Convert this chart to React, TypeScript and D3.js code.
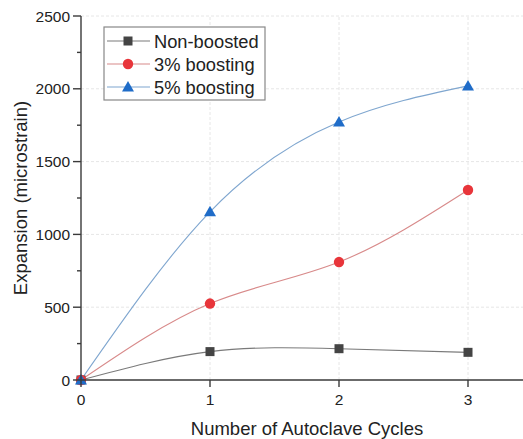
import React from 'react';
import * as d3 from 'd3';

const cycles = [0, 1, 2, 3];
const nonBoosted = [0, 195, 215, 190];
const boost3 = [0, 525, 810, 1305];
const boost5 = [0, 1155, 1772, 2020];
const yTicks = [0, 500, 1000, 1500, 2000, 2500];
const yMinor = [250, 750, 1250, 1750, 2250];
const xTicks = [0, 1, 2, 3];

const FONT = '"Liberation Sans", Arial, sans-serif';

const series = [
  { name: 'Non-boosted', values: nonBoosted, line: '#7a7a7a', fill: '#444444', shape: 'square' },
  { name: '3% boosting', values: boost3, line: '#d88a8a', fill: '#e8353a', shape: 'circle' },
  { name: '5% boosting', values: boost5, line: '#7fa6cf', fill: '#1f6cc8', shape: 'triangle' },
];

const Marker = ({ shape, x, y, fill }: { shape: string; x: number; y: number; fill: string }) => {
  if (shape === 'square') return <rect x={x - 4.5} y={y - 4.5} width={9} height={9} fill={fill} />;
  if (shape === 'circle') return <circle cx={x} cy={y} r={5.2} fill={fill} />;
  return <path d={`M${x},${y - 6} L${x + 6},${y + 4.5} L${x - 6},${y + 4.5} Z`} fill={fill} />;
};

const App = () => {
  const width = 523;
  const height = 439;
  const x = d3.scaleLinear().domain([0, 3]).range([81, 468]);
  const y = d3.scaleLinear().domain([0, 2500]).range([380, 16]);

  const line = d3
    .line<number>()
    .x((_, i) => x(cycles[i]))
    .y((d) => y(d))
    .curve(d3.curveNatural);

  return (
    <svg
      width={width}
      height={height}
      style={{ position: 'absolute', left: 0, top: 0, background: '#fff' }}
      fontFamily={FONT}
    >
      {/* grid */}
      {yTicks.slice(1).map((t) => (
        <line key={'gy' + t} x1={x(0)} x2={width} y1={y(t)} y2={y(t)} stroke="#e6e6e6" strokeWidth={1} strokeDasharray="3,2" />
      ))}
      {xTicks.slice(1).map((t) => (
        <line key={'gx' + t} x1={x(t)} x2={x(t)} y1={y(0)} y2={y(2500)} stroke="#e6e6e6" strokeWidth={1} strokeDasharray="3,2" />
      ))}

      {/* series lines */}
      {series.map((s) => (
        <path key={s.name} d={line(s.values) || ''} fill="none" stroke={s.line} strokeWidth={1.1} />
      ))}
      {series.map((s) =>
        s.values.map((v, i) => (
          <Marker key={s.name + i} shape={s.shape} x={x(cycles[i])} y={y(v)} fill={s.fill} />
        ))
      )}

      {/* axes */}
      <line x1={x(0)} x2={x(0)} y1={y(0)} y2={y(2500)} stroke="#3a3a3a" strokeWidth={1.4} />
      <line x1={x(0)} x2={width} y1={y(0)} y2={y(0)} stroke="#3a3a3a" strokeWidth={1.4} />
      {yTicks.map((t) => (
        <g key={'yt' + t}>
          <line x1={x(0) - 8} x2={x(0)} y1={y(t)} y2={y(t)} stroke="#3a3a3a" strokeWidth={1.4} />
          <text x={x(0) - 11} y={y(t)} dy="0.36em" textAnchor="end" fontSize={15.5} fill="#222">
            {t}
          </text>
        </g>
      ))}
      {yMinor.map((t) => (
        <line key={'ym' + t} x1={x(0) - 4} x2={x(0)} y1={y(t)} y2={y(t)} stroke="#3a3a3a" strokeWidth={1.4} />
      ))}
      {xTicks.map((t) => (
        <g key={'xt' + t}>
          <line x1={x(t)} x2={x(t)} y1={y(0)} y2={y(0) + 7} stroke="#3a3a3a" strokeWidth={1.4} />
          <text x={x(t)} y={y(0) + 25} textAnchor="middle" fontSize={15.5} fill="#222">
            {t}
          </text>
        </g>
      ))}

      {/* axis titles */}
      <text x={307} y={435} textAnchor="middle" fontSize={18.5} fill="#222">
        Number of Autoclave Cycles
      </text>
      <text transform={`translate(27,198) rotate(-90)`} textAnchor="middle" fontSize={18.5} fill="#222">
        Expansion (microstrain)
      </text>

      {/* legend */}
      <rect x={104} y={27} width={161} height={73} fill="#fff" stroke="#888" strokeWidth={1.2} />
      {series.map((s, i) => {
        const ly = 41 + i * 23;
        return (
          <g key={'lg' + s.name}>
            <line x1={107} x2={150} y1={ly} y2={ly} stroke={s.line} strokeWidth={1.1} />
            <Marker shape={s.shape} x={128} y={ly} fill={s.fill} />
            <text x={154} y={ly} dy="0.36em" fontSize={18.3} fill="#222">
              {s.name}
            </text>
          </g>
        );
      })}
    </svg>
  );
};

export default App;
